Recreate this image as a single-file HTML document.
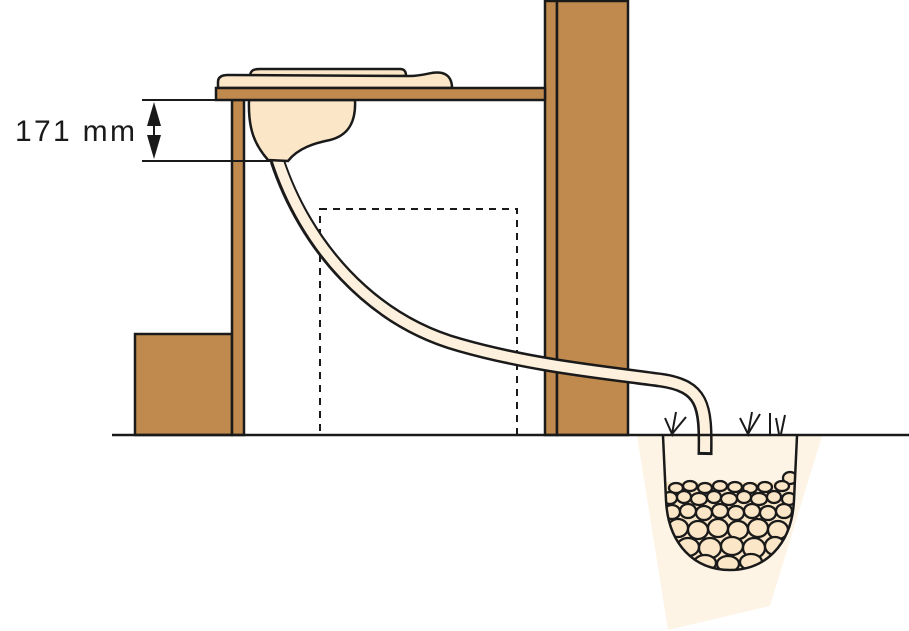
<!DOCTYPE html>
<html><head><meta charset="utf-8"><style>
html,body{margin:0;padding:0;background:#fff;width:909px;height:631px;overflow:hidden}
</style></head><body>
<svg width="909" height="631" viewBox="0 0 909 631" xmlns="http://www.w3.org/2000/svg">
<defs>
<clipPath id="pit"><path d="M663,436 L666,500 C668,545 695,570 730,570 C765,570 792,545 794,500 L797,436 Z"/></clipPath>
</defs>
<polygon points="637,436 668,630 770,606 822,436" fill="#fdf4e6"/>
<rect x="135" y="334" width="97" height="101" fill="#c08a4e" stroke="#1a1a1a" stroke-width="2.5"/>
<rect x="232" y="100" width="12" height="335" fill="#c08a4e" stroke="#1a1a1a" stroke-width="2.5"/>
<rect x="545" y="1" width="12" height="434" fill="#c08a4e" stroke="#1a1a1a" stroke-width="2.5"/>
<rect x="557" y="1" width="71" height="434" fill="#c08a4e" stroke="#1a1a1a" stroke-width="2.5"/>
<rect x="320" y="209" width="197" height="226" fill="none" stroke="#1a1a1a" stroke-width="2" stroke-dasharray="7,6"/>
<path d="M277,160 C305,245 370,320 460,345 C530,365 600,372 660,380 C703,386 706,405 705,455" fill="none" stroke="#1a1a1a" stroke-width="15"/>
<path d="M277,158 C305,245 370,320 460,345 C530,365 600,372 660,380 C703,386 706,405 705,452" fill="none" stroke="#fdf1de" stroke-width="10"/>
<path d="M249,100 C248,130 255,145 268,160 L288,161 C298,148 315,143 330,140 C350,135 356,120 355,100 Z" fill="#fbe7c8" stroke="#1a1a1a" stroke-width="2.5"/>
<path d="M250,77 C250,70 254,69 260,69 L400,69 C405,69 406,72 406,76 Z" fill="#fbe7c8" stroke="#1a1a1a" stroke-width="2.5"/>
<path d="M218,88 L218,82 C218,77 222,75 228,75 L410,76 C425,76 432,71 442,73 C450,75 452,82 452,88 Z" fill="#fbe7c8" stroke="#1a1a1a" stroke-width="2.5"/>
<rect x="216" y="88" width="329" height="12" fill="#c08a4e" stroke="#1a1a1a" stroke-width="2.5"/>
<line x1="112" y1="435" x2="909" y2="435" stroke="#1a1a1a" stroke-width="2.5"/>
<g stroke="#1a1a1a" stroke-width="2" fill="none">
<path d="M665,418 L672,434 L676,412 M672,434 L686,417"/>
<path d="M740,418 L748,434 L752,412 M748,434 L760,414"/>
<path d="M770,413 L770,434 M776,418 L779,434 M781,434 L785,415"/>
</g>
<g clip-path="url(#pit)" fill="#fbe7c8" stroke="#1a1a1a" stroke-width="2.3">
<rect x="660" y="482" width="140" height="90" fill="#fbe7c8" stroke="none"/>
<ellipse cx="790" cy="478" rx="7" ry="6"/><ellipse cx="782" cy="486" rx="7" ry="5"/>
<ellipse cx="676" cy="488" rx="7" ry="5"/><ellipse cx="690" cy="486" rx="7" ry="5"/><ellipse cx="705" cy="488" rx="7" ry="5"/><ellipse cx="720" cy="486" rx="7" ry="5"/><ellipse cx="735" cy="487" rx="7" ry="5"/><ellipse cx="750" cy="488" rx="7" ry="5"/><ellipse cx="765" cy="487" rx="7" ry="5"/>
<ellipse cx="670" cy="498" rx="7" ry="6"/><ellipse cx="684" cy="497" rx="7" ry="6"/><ellipse cx="699" cy="499" rx="8" ry="6"/><ellipse cx="714" cy="497" rx="7" ry="6"/><ellipse cx="729" cy="499" rx="8" ry="6"/><ellipse cx="744" cy="497" rx="7" ry="6"/><ellipse cx="759" cy="499" rx="8" ry="6"/><ellipse cx="774" cy="497" rx="7" ry="6"/><ellipse cx="789" cy="499" rx="7" ry="6"/>
<ellipse cx="672" cy="512" rx="8" ry="7"/><ellipse cx="688" cy="511" rx="8" ry="7"/><ellipse cx="704" cy="513" rx="8" ry="7"/><ellipse cx="720" cy="511" rx="8" ry="7"/><ellipse cx="736" cy="513" rx="8" ry="7"/><ellipse cx="752" cy="511" rx="8" ry="7"/><ellipse cx="768" cy="513" rx="8" ry="7"/><ellipse cx="784" cy="511" rx="8" ry="7"/>
<ellipse cx="678" cy="528" rx="10" ry="9"/><ellipse cx="698" cy="530" rx="10" ry="9"/><ellipse cx="718" cy="528" rx="10" ry="9"/><ellipse cx="738" cy="530" rx="10" ry="9"/><ellipse cx="758" cy="528" rx="10" ry="9"/><ellipse cx="778" cy="530" rx="10" ry="9"/>
<ellipse cx="688" cy="547" rx="11" ry="9"/><ellipse cx="710" cy="548" rx="11" ry="10"/><ellipse cx="732" cy="546" rx="11" ry="9"/><ellipse cx="754" cy="548" rx="11" ry="10"/><ellipse cx="775" cy="546" rx="10" ry="9"/>
<ellipse cx="705" cy="563" rx="11" ry="8"/><ellipse cx="728" cy="564" rx="11" ry="8"/><ellipse cx="751" cy="562" rx="11" ry="8"/>
</g>
<path d="M663,436 L666,500 C668,545 695,570 730,570 C765,570 792,545 794,500 L797,436" fill="none" stroke="#1a1a1a" stroke-width="2.5"/>
<g stroke="#1a1a1a" stroke-width="2">
<line x1="142" y1="100" x2="218" y2="100"/>
<line x1="142" y1="161" x2="272" y2="161"/>
<line x1="154" y1="110" x2="154" y2="152"/>
</g>
<polygon points="154,102 147,126 161,126" fill="#1a1a1a"/>
<polygon points="154,159 147,135 161,135" fill="#1a1a1a"/>
<text x="15" y="141" font-family="Liberation Sans, sans-serif" font-size="30" fill="#1a1a1a" textLength="120">171 mm</text>
</svg>
</body></html>
